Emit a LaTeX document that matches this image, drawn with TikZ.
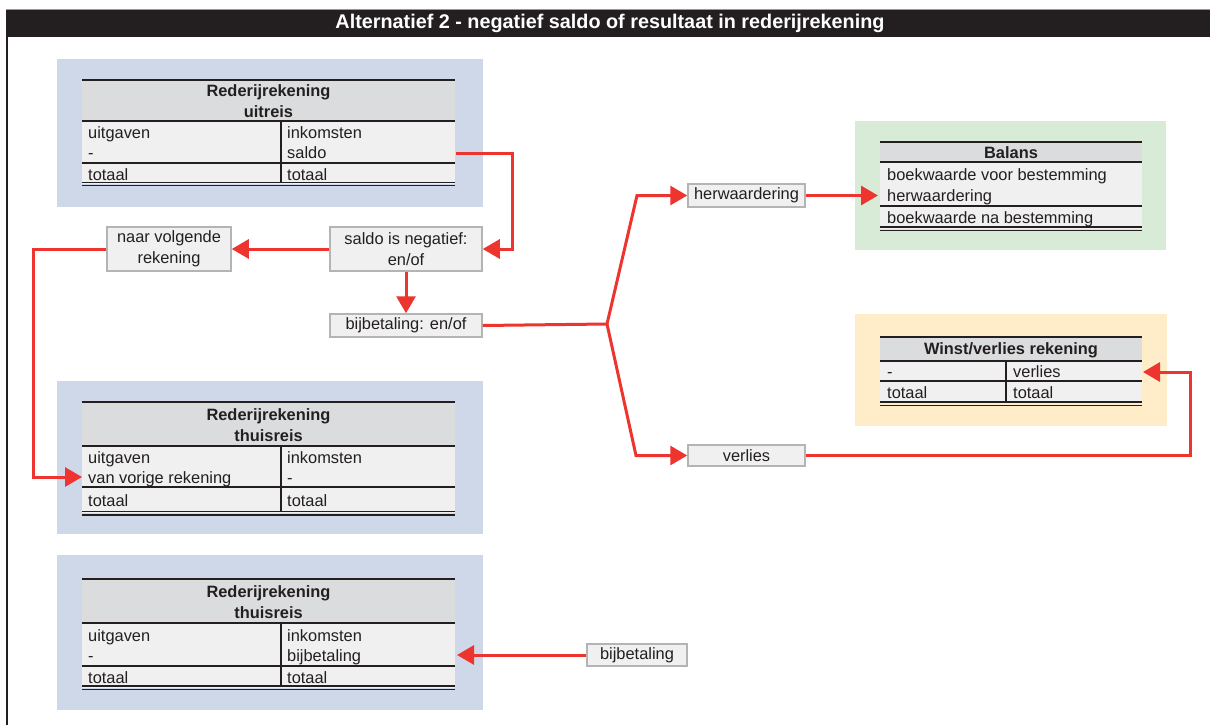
\documentclass[tikz,border=0pt]{standalone}
\usepackage{fontspec}
\setmainfont{Liberation Sans}
\usetikzlibrary{arrows.meta}
\definecolor{redl}{RGB}{238,52,46}
\definecolor{bluebg}{RGB}{206,216,233}
\definecolor{greenbg}{RGB}{216,235,214}
\definecolor{orangebg}{RGB}{255,236,200}
\definecolor{hdrgray}{RGB}{219,220,222}
\definecolor{rowgray}{RGB}{240,240,240}
\definecolor{boxgray}{RGB}{180,180,180}
\definecolor{titlebg}{RGB}{35,31,32}
\definecolor{txtc}{RGB}{35,31,32}
\begin{document}
\begin{tikzpicture}[x=1pt,y=-1pt,
  txt/.style={inner sep=0pt,anchor=west,text height=12pt,text depth=0pt,font=\fontsize{16.4}{19}\selectfont,text=txtc},
  hd/.style={inner sep=0pt,text height=12pt,text depth=0pt,font=\fontsize{16.4}{19}\selectfont\bfseries,text=txtc},
  sbox/.style={draw=boxgray,line width=1.5pt,fill=rowgray,inner sep=0pt,align=center,font=\fontsize{16.4}{21}\selectfont,text=txtc},
  tline/.style={line width=2pt,draw=txtc},
  dline/.style={line width=1.5pt,draw=txtc},
  conn/.style={draw=redl,line width=3pt},
  arr/.style={conn,-{Triangle[length=17pt,width=19pt]}}
]
\useasboundingbox (0,0) rectangle (1210,725);
% frame and title
\fill[white] (0,0) rectangle (1210,725);
\draw[line width=1pt,draw=black!40] (6,9.5) -- (1210,9.5);
\fill[titlebg] (6,10) rectangle (1210,37);
\draw[line width=2pt,draw=txtc] (7,37) -- (7,725);
\node[inner sep=0pt,text=white,font=\fontsize{19.8}{22}\selectfont\bfseries] (title) at (610,23.5) {Alternatief 2 - negatief saldo of resultaat in rederijrekening};

% background panels
\fill[bluebg] (57,59) rectangle (483,207);
\fill[bluebg] (57,381) rectangle (483,534);
\fill[bluebg] (57,555) rectangle (483,710);
\fill[greenbg] (855,121) rectangle (1166,250);
\fill[orangebg] (855,314) rectangle (1167,426);

% ---------- table: uitreis ----------
\fill[hdrgray] (82,80) rectangle (455,121);
\fill[rowgray] (82,121) rectangle (455,184);
\draw[tline] (82,80) -- (455,80);
\draw[tline] (82,121) -- (455,121);
\draw[tline] (82,163) -- (455,163);
\draw[dline] (82,182.3) -- (455,182.3);
\draw[dline] (82,185.6) -- (455,185.6);
\draw[tline] (281,121) -- (281,182.3);
\node[hd] (u-h1) at (268.5,90) {Rederijrekening};
\node[hd] (u-h2) at (268.5,111) {uitreis};
\node[txt] (u-l1) at (88,132) {uitgaven};
\node[txt] (u-l2) at (88,152.5) {-};
\node[txt] (u-l3) at (88,174) {totaal};
\node[txt] (u-r1) at (287,132) {inkomsten};
\node[txt] (u-r2) at (287,152.5) {saldo};
\node[txt] (u-r3) at (287,174) {totaal};
\coordinate (u-out) at (456,153);

% ---------- table: thuisreis 1 ----------
\fill[hdrgray] (82,402) rectangle (455,446);
\fill[rowgray] (82,446) rectangle (455,513);
\draw[tline] (82,402) -- (455,402);
\draw[tline] (82,446) -- (455,446);
\draw[tline] (82,487) -- (455,487);
\draw[dline] (82,511.5) -- (455,511.5);
\draw[dline] (82,514.8) -- (455,514.8);
\draw[tline] (281,446) -- (281,511.5);
\node[hd] (t1-h1) at (268.5,414) {Rederijrekening};
\node[hd] (t1-h2) at (268.5,435) {thuisreis};
\node[txt] (t1-l1) at (88,457) {uitgaven};
\node[txt] (t1-l2) at (88,477) {van vorige rekening};
\node[txt] (t1-l3) at (88,500) {totaal};
\node[txt] (t1-r1) at (287,457) {inkomsten};
\node[txt] (t1-r2) at (287,477) {-};
\node[txt] (t1-r3) at (287,500) {totaal};
\coordinate (t1-in) at (82,477);

% ---------- table: thuisreis 2 ----------
\fill[hdrgray] (82,579) rectangle (455,623);
\fill[rowgray] (82,623) rectangle (455,688);
\draw[tline] (82,579) -- (455,579);
\draw[tline] (82,623) -- (455,623);
\draw[tline] (82,666) -- (455,666);
\draw[dline] (82,686) -- (455,686);
\draw[dline] (82,689.3) -- (455,689.3);
\draw[tline] (281,623) -- (281,686);
\node[hd] (t2-h1) at (268.5,591) {Rederijrekening};
\node[hd] (t2-h2) at (268.5,612.5) {thuisreis};
\node[txt] (t2-l1) at (88,635) {uitgaven};
\node[txt] (t2-l2) at (88,655.5) {-};
\node[txt] (t2-l3) at (88,677) {totaal};
\node[txt] (t2-r1) at (287,635) {inkomsten};
\node[txt] (t2-r2) at (287,655.5) {bijbetaling};
\node[txt] (t2-r3) at (287,677) {totaal};
\coordinate (t2-in) at (457,655);

% ---------- table: Balans ----------
\fill[hdrgray] (880,142) rectangle (1142,162);
\fill[rowgray] (880,162) rectangle (1142,229);
\draw[tline] (880,142) -- (1142,142);
\draw[tline] (880,162) -- (1142,162);
\draw[tline] (880,206) -- (1142,206);
\draw[dline] (880,227) -- (1142,227);
\draw[dline] (880,230.3) -- (1142,230.3);
\node[hd] (b-h) at (1011,152) {Balans};
\node[txt] (b-1) at (887,174) {boekwaarde voor bestemming};
\node[txt] (b-2) at (887,195) {herwaardering};
\node[txt] (b-3) at (887,217) {boekwaarde na bestemming};
\coordinate (b-in) at (878,195.5);

% ---------- table: Winst/verlies ----------
\fill[hdrgray] (880,337) rectangle (1142,361);
\fill[rowgray] (880,361) rectangle (1142,404);
\draw[tline] (880,337) -- (1142,337);
\draw[tline] (880,361) -- (1142,361);
\draw[tline] (880,381) -- (1142,381);
\draw[dline] (880,402) -- (1142,402);
\draw[dline] (880,405.3) -- (1142,405.3);
\draw[tline] (1006,361) -- (1006,402);
\node[hd] (w-h) at (1011,348.5) {Winst/verlies rekening};
\node[txt] (w-l1) at (887,371) {-};
\node[txt] (w-l2) at (887,392) {totaal};
\node[txt] (w-r1) at (1013,371) {verlies};
\node[txt] (w-r2) at (1013,392) {totaal};
\coordinate (w-in) at (1143,372);

% ---------- small boxes ----------
\node[sbox,minimum width=124pt,minimum height=44pt] (naar) at (169,249) {naar volgende\\rekening};
\node[sbox,minimum width=152pt,minimum height=44pt] (saldo) at (406,249) {saldo is negatief:\\en/of};
\node[sbox,minimum width=152pt,minimum height=23pt] (bij1) at (406,325.5) {bijbetaling: en/of};
\node[sbox,minimum width=117pt,minimum height=23pt] (herw) at (746.5,195.5) {herwaardering};
\node[sbox,minimum width=117pt,minimum height=21pt] (verl) at (746.5,455.5) {verlies};
\node[sbox,minimum width=100pt,minimum height=22pt] (bij2) at (637,655) {bijbetaling};

\coordinate (junc) at (607,324);

% ---------- connectors ----------
\draw[arr] (u-out) -- (512,153) -- (512,249) -- (saldo.east);
\draw[arr] (saldo.west) -- (naar.east);
\draw[arr] (saldo.south) -- (bij1.north);
\draw[arr] (naar.west) -- (33,249) -- (33,477) -- (t1-in);
\draw[conn] (bij1.east) -- (junc);
\draw[arr] (junc) -- (637,195.5) -- (herw.west);
\draw[arr] (junc) -- (636,455.5) -- (verl.west);
\draw[arr] (herw.east) -- (b-in);
\draw[arr] (verl.east) -- (1190,455.5) -- (1190,372) -- (w-in);
\draw[arr] (bij2.west) -- (t2-in);
\end{tikzpicture}
\end{document}
